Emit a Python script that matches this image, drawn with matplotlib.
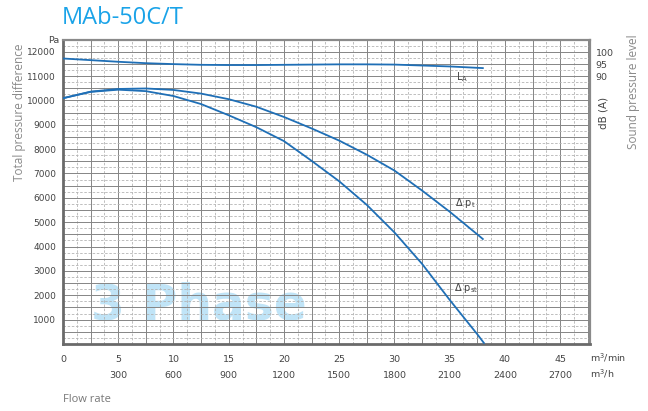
import numpy as np
import matplotlib.pyplot as plt
from matplotlib.ticker import MultipleLocator, FuncFormatter

# flow rate in m3/min, pressure in Pa, sound level in dB(A)
flow = [0, 2.5, 5, 7.5, 10, 12.5, 15, 17.5, 20, 22.5, 25, 27.5, 30, 32.5, 35, 37.5, 38.0]
dp_t = [10090, 10360, 10470, 10490, 10430, 10280, 10050, 9740, 9320, 8850,
        8350, 7770, 7120, 6300, 5430, 4500, 4310]
flow_st = [0, 2.5, 5, 7.5, 10, 12.5, 15, 17.5, 20, 22.5, 25, 27.5, 30, 32.5, 35, 37.5, 38.1]
dp_st = [10090, 10350, 10440, 10380, 10180, 9850, 9390, 8900, 8330, 7520,
         6680, 5710, 4580, 3290, 1810, 400, 40]
flow_la = [0, 2.5, 5, 7.5, 10, 12.5, 15, 17.5, 20, 22.5, 25, 27.5, 30, 32.5, 35, 38.0]
la = [97.6, 96.9, 96.2, 95.6, 95.2, 94.9, 94.8, 94.8, 94.9, 95.0, 95.1, 95.1,
      95.0, 94.6, 94.2, 93.5]

x_labels_min = [0, 5, 10, 15, 20, 25, 30, 35, 40, 45]
x_labels_h = [300, 600, 900, 1200, 1500, 1800, 2100, 2400, 2700]
db_ticks = [90, 95, 100]

narrow = ['Liberation Sans Narrow', 'DejaVu Sans']
txt = '#444444'
blue = '#1f6fb6'

fig = plt.figure(figsize=(6.48, 4.11), dpi=100)
ax = fig.add_axes([63/648, 1-344/411, 527/648, 304/411])
ax.set_xlim(0, 47.7)
ax.set_ylim(0, 12480)

# grid
ax.xaxis.set_major_locator(MultipleLocator(2.5))
ax.xaxis.set_minor_locator(MultipleLocator(1.25))
ax.yaxis.set_major_locator(MultipleLocator(500))
ax.yaxis.set_minor_locator(MultipleLocator(250))
ax.grid(which='major', color='#858585', lw=0.7)
ax.grid(which='minor', color='#b4b4b4', lw=0.6, ls=(0, (3, 2)))
ax.set_axisbelow(True)
ax.xaxis.set_major_formatter(FuncFormatter(lambda v, p: '%d' % v if v % 5 == 0 else ''))
ax.yaxis.set_major_formatter(FuncFormatter(lambda v, p: '%d' % v if v % 1000 == 0 and v > 0 else ''))
ax.tick_params(which='both', length=0)
ax.tick_params(axis='x', pad=8, labelsize=6.8, labelcolor=txt)
ax.tick_params(axis='y', pad=5, labelsize=6.5, labelcolor=txt)
for lab in ax.get_xticklabels() + ax.get_yticklabels():
    lab.set_family(narrow)

for s in ['left', 'bottom']:
    ax.spines[s].set_color('#6a6a6a')
    ax.spines[s].set_linewidth(2.0)
for s in ['top', 'right']:
    ax.spines[s].set_color('#8a8a8a')
    ax.spines[s].set_linewidth(1.6)

# watermark
ax.text(12.3, 1600, '3 Phase', fontsize=35, fontweight='bold', color='#5ab8ea',
        alpha=0.38, ha='center', va='center', zorder=0.3)

ax.plot(flow, dp_t, color=blue, lw=1.3, zorder=3)
ax.plot(flow_st, dp_st, color=blue, lw=1.3, zorder=3)

# sound level on right axis
ax2 = ax.twinx()
ax2.set_ylim(-24.35, 105.5)
ax2.plot(flow_la, la, color=blue, lw=1.3)
ax2.set_yticks(db_ticks)
ax2.tick_params(length=0, pad=4, labelsize=6.8, labelcolor=txt)
for lab in ax2.get_yticklabels():
    lab.set_family(narrow)
for s in ax2.spines.values():
    s.set_visible(False)

# m3/h axis
sec = ax.secondary_xaxis(-0.075, functions=(lambda x: x*60, lambda x: x/60))
sec.set_xticks(x_labels_h)
sec.tick_params(length=0, pad=3, labelsize=6.8, labelcolor=txt)
for lab in sec.get_xticklabels():
    lab.set_family(narrow)
sec.spines['bottom'].set_visible(False)

# curve labels
ax.text(35.6, 10950, r'L$_\mathrm{A}$', fontsize=7, color=txt, va='center', family=narrow)
ax.text(35.5, 5780, r'$\Delta$ p$_\mathrm{t}$', fontsize=7, color=txt, va='center', family=narrow)
ax.text(35.4, 2300, r'$\Delta$ p$_\mathrm{st}$', fontsize=7, color=txt, va='center', family=narrow)

ax.text(-0.006, 0.997, 'Pa', transform=ax.transAxes, ha='right', va='center',
        fontsize=6.8, color=txt, family=narrow)
ax.text(1.0, -0.045, r'm$^3$/min', transform=ax.transAxes, ha='left', va='center',
        fontsize=6.8, color=txt, family=narrow)
ax.text(1.0, -0.099, r'm$^3$/h', transform=ax.transAxes, ha='left', va='center',
        fontsize=6.8, color=txt, family=narrow)

fig.text(62/648, 1-18/411, 'MAb-50C/T', fontsize=17, color='#1aa3e8',
         family='Open Sans', ha='left', va='center')
fig.text(20/648, 1-112/411, 'Total pressure difference', rotation=90, fontsize=8.5,
         color='#8a8a8a', family='Open Sans', ha='center', va='center')
fig.text(604/648, 1-113/411, 'dB (A)', rotation=90, fontsize=7.5,
         color=txt, family=narrow, ha='center', va='center')
fig.text(633/648, 1-92/411, 'Sound pressure level', rotation=90, fontsize=8.5,
         color='#8a8a8a', family='Open Sans', ha='center', va='center')
fig.text(63/648, 1-399/411, 'Flow rate', fontsize=8, color='#777777',
         family='Open Sans', ha='left', va='center')

fig.savefig('out.png', dpi=100)
